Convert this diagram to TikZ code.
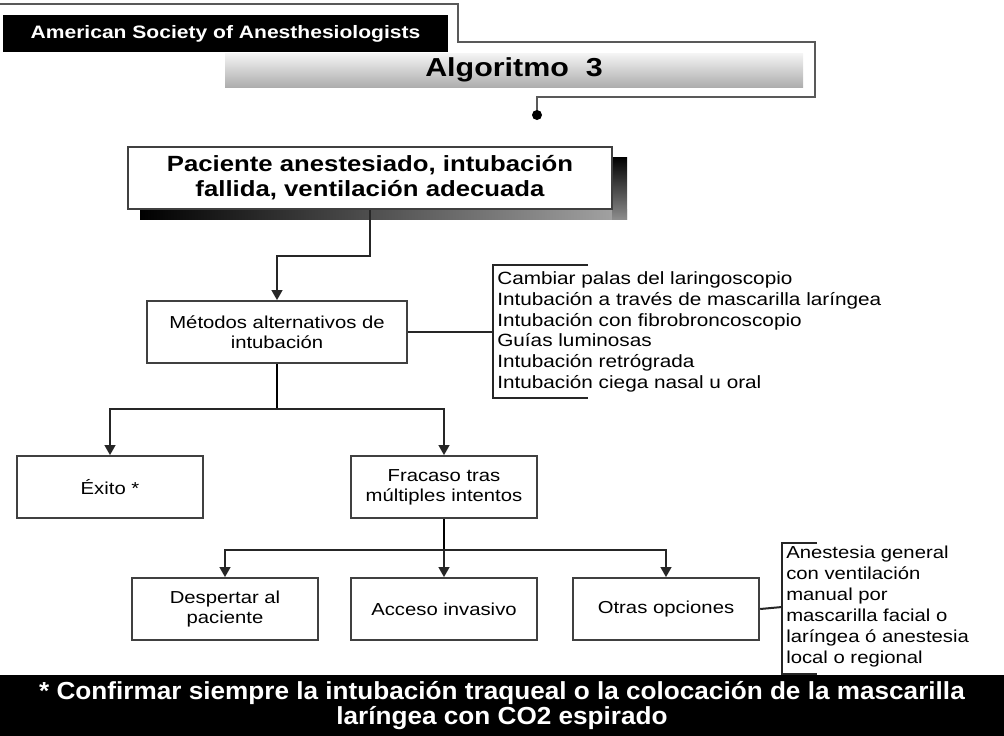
\documentclass[tikz,border=0pt]{standalone}
\usepackage{fontspec}
\setmainfont{Liberation Sans}[FakeStretch=1.17]
\newfontfamily\notafont{Liberation Sans}[FakeStretch=1.06]
\usetikzlibrary{arrows.meta,positioning}

\begin{document}
\begin{tikzpicture}[x=0.75pt,y=-0.75pt,>={Triangle[length=7.5pt,width=8pt]},
	box/.style={draw=black!75,line width=1.3pt,fill=white,minimum width=140pt,minimum height=46.5pt,inner sep=0pt,align=center,font=\fontsize{13}{15}\selectfont},
	mainbox/.style={box,minimum width=363pt,font=\bfseries\fontsize{16.5}{18.75}\selectfont},
	link/.style={draw=black!85,line width=1.5pt},
	trunk/.style={draw=black,line width=2.2pt},
	frame/.style={draw=black!65,line width=1.5pt},
	list/.style={inner sep=0pt,align=left,font=\fontsize{13.3}{15.5}\selectfont}]

	\useasboundingbox (0,0) rectangle (1004,736);

	% cabecera
	\draw[frame] (0,4) -- (458,4) -- (458,42) -- (815,42) -- (815,97) -- (537,97) -- (537,112);
	\fill[black] (537,115) circle (3.75pt);
	\node[fill=black,text=white,minimum width=333.75pt,minimum height=27.75pt,inner sep=0pt,font=\bfseries\fontsize{13.5}{15}\selectfont] (asa) at (225.5,33.5) {American Society of Anesthesiologists};
	\node[top color=black!4,bottom color=black!32,minimum width=433.5pt,minimum height=25.5pt,inner sep=0pt,font=\bfseries\fontsize{19.5}{22}\selectfont] (alg) at (514,70) {Algoritmo~~3};

	% sombra
	\shade[left color=black,right color=black!35] (140,209) rectangle (627,219);
	\shade[top color=black,bottom color=black!45] (612,157) rectangle (627,219);

	\node[mainbox]	(main)		at (370,178)	{Paciente anestesiado, intubación\\fallida, ventilación adecuada};
	\node[box,minimum width=195pt]	(metodos)	at (277,332)	{Métodos alternativos de\\intubación};
	\node[box]	(exito)		at (110,487)	{Éxito *};
	\node[box]	(fracaso)	at (444,487)	{Fracaso tras\\múltiples intentos};
	\node[box]	(despertar)	at (225,609)	{Despertar al\\paciente};
	\node[box]	(acceso)	at (444,609)	{Acceso invasivo};
	\node[box]	(otras)		at (666,609)	{Otras opciones};

	\coordinate (lbr) at (493,332);
	\coordinate (rbr) at (782,607);
	\node[list,right=3pt of lbr]	(metlist)	{Cambiar palas del laringoscopio\\Intubación a través de mascarilla laríngea\\Intubación con fibrobroncoscopio\\Guías luminosas\\Intubación retrógrada\\Intubación ciega nasal u oral};
	\node[list,right=3pt of rbr,font=\fontsize{13}{15.75}\selectfont]	(otrlist)	{Anestesia general\\con ventilación\\manual por\\mascarilla facial o\\laríngea ó anestesia\\local o regional};

	% conexiones
	\draw[link,->] (main.south) -- ++(0,46) -| (metodos.north);
	\draw[link] (metodos.east) -- (lbr);
	\draw[link] (588,265) -- (493,265) -- (493,398) -- (588,398);
	\draw[trunk] (metodos.south) -- ++(0,45) coordinate (split1);
	\draw[link,->] (split1) -| (exito.north);
	\draw[link,->] (split1) -| (fracaso.north);
	\draw[trunk] (fracaso.south) -- ++(0,31) coordinate (split2);
	\draw[link,->] (split2) -| (despertar.north);
	\draw[link,->] (split2) -- (acceso.north);
	\draw[link,->] (split2) -| (otras.north);
	\draw[link] (otras.east) -- (rbr);
	\draw[link] (817,543) -- (782,543) -- (782,674) -- (817,674);

	% nota
	\node[fill=black,text=white,minimum width=753pt,minimum height=45.75pt,inner sep=0pt,align=center,font=\notafont\bfseries\fontsize{18.5}{18.75}\selectfont] (nota) at (502,705.5) {* Confirmar siempre la intubación traqueal o la colocación de la mascarilla\\laríngea con CO2 espirado};
\end{tikzpicture}
\end{document}
